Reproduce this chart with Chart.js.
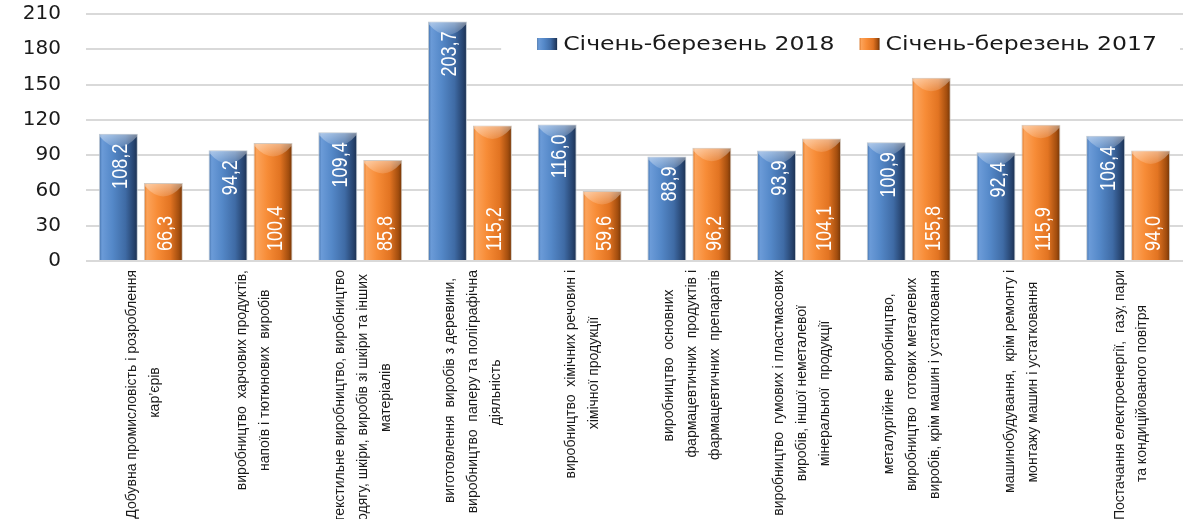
<!DOCTYPE html>
<html>
<head>
<meta charset="utf-8">
<script src="https://cdn.jsdelivr.net/npm/chart.js@4.4.1/dist/chart.umd.min.js"></script>
<style>
html,body{margin:0;padding:0;background:#fff;}
#wrap{width:1202px;height:519px;}
</style>
</head>
<body>
<div id="wrap"><canvas id="c" width="1202" height="519"></canvas></div>
<script>
const categories = [
  ['Добувна промисловість і розроблення', 'кар’єрів'],
  ['виробництво  харчових продуктів,', 'напоїв і тютюнових  виробів'],
  ['текстильне виробництво, виробництво', 'одягу, шкіри, виробів зі шкіри та інших', 'матеріалів'],
  ['виготовлення  виробів з деревини,', 'виробництво  паперу та поліграфічна', 'діяльність'],
  ['виробництво  хімічних речовин і', 'хімічної продукції'],
  ['виробництво  основних', 'фармацевтичних  продуктів і', 'фармацевтичних  препаратів'],
  ['виробництво  гумових і пластмасових', 'виробів, іншої неметалевої', 'мінеральної  продукції'],
  ['металургійне  виробництво,', 'виробництво  готових металевих', 'виробів, крім машин і устатковання'],
  ['машинобудування,  крім ремонту і', 'монтажу машин і устатковання'],
  ['Постачання електроенергії,  газу, пари', 'та кондиційованого повітря']
];
const seriesNames = ['Січень-березень 2018', 'Січень-березень 2017'];
const values2018 = [108.2, 94.2, 109.4, 203.7, 116.0, 88.9, 93.9, 100.9, 92.4, 106.4];
const values2017 = [66.3, 100.4, 85.8, 115.2, 59.6, 96.2, 104.1, 155.8, 115.9, 94.0];
const yTicks = [0, 30, 60, 90, 120, 150, 180, 210];

const CAT_PCT = 0.82;
const BAR_PCT = 0.867;
const X_SIZE = 14;
const X_FONT = {family: '"Liberation Sans", Arial, sans-serif', size: X_SIZE, lineHeight: 1.64};
const X_FONT_CSS = X_SIZE + 'px "Liberation Sans", Arial, sans-serif';
const LINE_H = X_SIZE * 1.64;

const palettes = [
  {base: '#4F81BD', stops: ['#3d6ca6', '#6b9bd8', '#5488c8', '#3f6ba5', '#26436e', '#1a2e4d']},
  {base: '#F79646', stops: ['#d8701f', '#fca35a', '#f78c37', '#e27422', '#a24d0e', '#6e3306']}
];
const stopPos = [0, 0.08, 0.35, 0.68, 0.9, 1];

function makeGrad(ctx, x0, x1, pal) {
  const g = ctx.createLinearGradient(x0, 0, x1, 0);
  pal.stops.forEach((c, k) => g.addColorStop(stopPos[k], c));
  return g;
}

function barFill(context) {
  const pal = palettes[context.datasetIndex];
  const chart = context.chart;
  const xs = chart.scales && chart.scales.x;
  if (context.type !== 'data' || !xs || !(xs.width > 0)) return pal.base;
  const catW = xs.width / categories.length;
  const slot = catW * CAT_PCT / 2;
  const bw = slot * BAR_PCT;
  const cx = xs.getPixelForValue(context.dataIndex) + (context.datasetIndex - 0.5) * slot;
  return makeGrad(chart.ctx, cx - bw / 2, cx + bw / 2, pal);
}

const measureCtx = document.createElement('canvas').getContext('2d');
function paddedLines(i) {
  const lines = categories[i];
  measureCtx.font = X_FONT_CSS;
  const widths = lines.map(l => measureCtx.measureText(l).width);
  const maxW = Math.max.apply(null, widths);
  const sp = measureCtx.measureText(' ').width;
  return lines.map((l, k) => l + ' '.repeat(Math.max(0, Math.round((maxW - widths[k]) / 2 / sp))));
}

function fmt(v) { return v.toFixed(1).replace('.', ','); }

const LEG_STRETCH = 1.24;
const VAL_SQUEEZE = 0.82;

const decorPlugin = {
  id: 'decor',
  beforeDatasetsDraw(chart) {
    const ctx = chart.ctx;
    const area = chart.chartArea;
    ctx.save();
    ctx.font = '19px "DejaVu Sans", sans-serif';
    const boxW = 20, boxH = 12, gapBox = 6, gapItem = 25;
    const widths = seriesNames.map(n => ctx.measureText(n).width * LEG_STRETCH);
    let total = 0;
    widths.forEach((w, k) => { total += boxW + gapBox + w + (k < widths.length - 1 ? gapItem : 0); });
    const right = area.right - 26;
    let x = right - total;
    const cy = area.top + 30;
    ctx.fillStyle = '#ffffff';
    ctx.fillRect(x - 36, cy - 21, (right + 23) - (x - 36), 42);
    seriesNames.forEach((n, k) => {
      ctx.fillStyle = makeGrad(ctx, x, x + boxW, palettes[k]);
      ctx.fillRect(x, cy - boxH / 2, boxW, boxH);
      ctx.save();
      ctx.translate(x + boxW + gapBox, cy + 1);
      ctx.scale(LEG_STRETCH, 1);
      ctx.fillStyle = '#1a1a1a';
      ctx.textBaseline = 'middle';
      ctx.textAlign = 'left';
      ctx.fillText(n, 0, 0);
      ctx.restore();
      x += boxW + gapBox + widths[k] + gapItem;
    });
    ctx.restore();
  },
  afterDatasetsDraw(chart) {
    const ctx = chart.ctx;
    chart.data.datasets.forEach((ds, di) => {
      const meta = chart.getDatasetMeta(di);
      meta.data.forEach((bar, i) => {
        const w = bar.width;
        const x0 = bar.x - w / 2, x1 = bar.x + w / 2, top = bar.y;
        ctx.save();
        const g = ctx.createLinearGradient(0, top, 0, top + 16);
        g.addColorStop(0, 'rgba(255,255,255,0.45)');
        g.addColorStop(1, 'rgba(255,255,255,0.08)');
        ctx.beginPath();
        ctx.moveTo(x0 + 1, top + 1);
        ctx.lineTo(x1 - 1, top + 1);
        ctx.lineTo(x1 - 1, top + 3);
        ctx.quadraticCurveTo(bar.x, top + 24, x0 + 1, top + 3);
        ctx.closePath();
        ctx.fillStyle = g;
        ctx.fill();
        ctx.restore();
        ctx.save();
        ctx.font = '22px "Liberation Sans", Arial, sans-serif';
        ctx.fillStyle = '#ffffff';
        ctx.textBaseline = 'alphabetic';
        if (di === 0) {
          ctx.translate(bar.x, bar.y + 10);
          ctx.rotate(-Math.PI / 2);
          ctx.scale(VAL_SQUEEZE, 1);
          ctx.textAlign = 'right';
        } else {
          ctx.translate(bar.x, bar.base - 9);
          ctx.rotate(-Math.PI / 2);
          ctx.scale(VAL_SQUEEZE, 1);
          ctx.textAlign = 'left';
        }
        ctx.fillText(fmt(ds.data[i]), 0, 9);
        ctx.restore();
      });
    });
  }
};

new Chart(document.getElementById('c'), {
  type: 'bar',
  data: {
    labels: categories,
    datasets: [
      {label: seriesNames[0], data: values2018, backgroundColor: barFill,
       borderColor: 'rgba(185,195,205,0.9)', borderWidth: 1,
       categoryPercentage: CAT_PCT, barPercentage: BAR_PCT},
      {label: seriesNames[1], data: values2017, backgroundColor: barFill,
       borderColor: 'rgba(205,195,185,0.9)', borderWidth: 1,
       categoryPercentage: CAT_PCT, barPercentage: BAR_PCT}
    ]
  },
  options: {
    responsive: false,
    animation: false,
    devicePixelRatio: 1,
    layout: {padding: {top: 14, right: 19, bottom: 0, left: 0}},
    plugins: {
      legend: {display: false},
      tooltip: {enabled: false}
    },
    scales: {
      y: {
        min: 0, max: 210,
        afterBuildTicks: (s) => { s.ticks = yTicks.map(v => ({value: v})); },
        afterFit: (s) => { s.width = 86; s.paddingTop = 12; s.paddingBottom = 12; },
        grid: {color: '#d9d9d9', lineWidth: 2, drawTicks: false},
        border: {display: false},
        ticks: {
          padding: 25, color: '#1a1a1a',
          font: {family: '"DejaVu Sans", sans-serif', size: 20},
          callback: (v) => String(v)
        }
      },
      x: {
        type: 'category',
        offset: true,
        grid: {display: false, drawTicks: false},
        border: {display: false},
        afterFit: (s) => { s.height = 258; },
        ticks: {
          autoSkip: false, minRotation: 90, maxRotation: 90,
          padding: 9, color: '#1a1a1a', font: X_FONT,
          labelOffset: 3 - LINE_H / 2,
          callback: (v, i) => categories[i].length === 2 ? paddedLines(i) : ''
        }
      },
      x2: {
        type: 'category',
        position: 'bottom',
        weight: -1,
        labels: categories,
        offset: true,
        grid: {display: false, drawTicks: false},
        border: {display: false},
        afterFit: (s) => { s.height = 0; s.paddingLeft = 0; s.paddingRight = 0; },
        ticks: {
          autoSkip: false, minRotation: 90, maxRotation: 90,
          mirror: true,
          padding: -9, color: '#1a1a1a', font: X_FONT,
          labelOffset: 3,
          callback: (v, i) => categories[i].length === 3 ? paddedLines(i) : ''
        }
      }
    }
  },
  plugins: [decorPlugin]
});
</script>
</body>
</html>
